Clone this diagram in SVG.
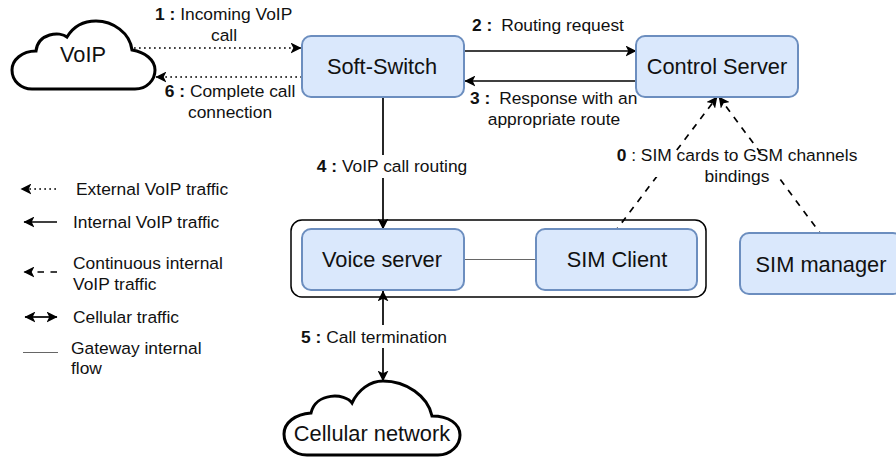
<svg xmlns="http://www.w3.org/2000/svg" width="896" height="457" viewBox="0 0 896 457">
<style>
text{font-family:"Liberation Sans",Arial,sans-serif;fill:#111}
.n{fill:#dae8fc;stroke:#6c8ebf;stroke-width:2}
.nt{font-size:21.800px;text-anchor:middle}
.l{font-size:17.400px}
.m{text-anchor:middle}
.b{font-weight:bold}
.c{fill:#fff;stroke:#000;stroke-width:3}
.e{fill:none;stroke:#000;stroke-width:1.700}
.dot{stroke-dasharray:1.700 3.300}
.dash{stroke-dasharray:6.500 6.500}
.off{stroke-dashoffset:5}
</style>
<defs>
<marker id="a" viewBox="0 0 10 10" refX="9.500" refY="5" markerWidth="11" markerHeight="11" markerUnits="userSpaceOnUse" orient="auto-start-reverse"><path d="M0 0L10 5L0 10L2.500 5Z" fill="#000"/></marker>
</defs>
<g id="connectors">
<path class="e dot" d="M134 48H301" marker-end="url(#a)"/>
<path class="e dot" d="M302 77H156" marker-end="url(#a)"/>
<path class="e" d="M464 51H636" marker-end="url(#a)"/>
<path class="e" d="M636 81H465" marker-end="url(#a)"/>
<path class="e" d="M383 97V229" marker-end="url(#a)"/>
<path class="e" d="M383 381V291" marker-start="url(#a)" marker-end="url(#a)"/>
<path class="e dash off" d="M617 229L717 97" marker-end="url(#a)"/>
<path class="e dash off" d="M820 233L719 97" marker-end="url(#a)"/>
<path d="M464 259.500H536" fill="none" stroke="#666" stroke-width="1"/>
</g>
<rect id="gateway" x="291" y="220" width="415" height="77" rx="11" fill="none" stroke="#000" stroke-width="1.500"/>
<g id="soft-switch"><rect class="n" x="302" y="36" width="162" height="61" rx="9"/><text class="nt" x="382" y="74">Soft-Switch</text></g>
<g id="control-server"><rect class="n" x="636" y="36" width="162" height="61" rx="9"/><text class="nt" x="717" y="74">Control Server</text></g>
<g id="voice-server"><rect class="n" x="302" y="229" width="162" height="61" rx="9"/><text class="nt" x="382" y="267">Voice server</text></g>
<g id="sim-client"><rect class="n" x="536" y="229" width="161" height="61" rx="9"/><text class="nt" x="617" y="267">SIM Client</text></g>
<g id="sim-manager"><rect class="n" x="740" y="233" width="162" height="61" rx="9"/><text class="nt" x="821" y="272">SIM manager</text></g>
<g id="voip-cloud"><path class="c" d="M32 89H135C147 89 155 80 155 70C155 60 145 52 132 50C130 33 113 21 96 21C83 21 73 27 67 37C60 31 38 33 36 51C22 51 12 60 12 70C12 81 21 89 32 89Z"/><text class="nt" x="83" y="62">VoIP</text></g>
<g id="cellular-cloud"><path class="c" d="M307 455H438C451 455 460 445 460 435C460 424 449 416 432 416C428 396 406 381 383 381C370 381 358 390 352 403C345 393 316 392 311 413C295 414 284 423 284 434C284 446 294 455 307 455Z"/><text class="nt" x="372" y="441">Cellular network</text></g>
<g id="labels">
<rect x="370" y="155" width="26" height="23" fill="#fff"/>
<rect x="370" y="325" width="26" height="23" fill="#fff"/>
<rect x="612" y="153" width="248" height="24" fill="#fff"/>
<text class="l" x="155" y="20"><tspan class="b">1 : </tspan>Incoming VoIP</text>
<text class="l m" x="224" y="41">call</text>
<text class="l m" x="230" y="97"><tspan class="b">6 : </tspan>Complete call</text>
<text class="l m" x="230" y="118">connection</text>
<text class="l" x="472" y="31"><tspan class="b">2 : </tspan><tspan dx="4">Routing request</tspan></text>
<text class="l" x="470" y="104"><tspan class="b">3 : </tspan><tspan dx="4">Response with an</tspan></text>
<text class="l m" x="554" y="125">appropriate route</text>
<text class="l m" x="392" y="172"><tspan class="b">4 : </tspan>VoIP call routing</text>
<text class="l m" x="374" y="343"><tspan class="b">5 : </tspan>Call termination</text>
<text class="l m" x="737" y="161"><tspan class="b">0</tspan> : SIM cards to GSM channels</text>
<text class="l m" x="737" y="182">bindings</text>
</g>
<g id="legend">
<path class="e dot" d="M56 189H21" marker-end="url(#a)"/>
<text class="l" x="76" y="195">External VoIP traffic</text>
<path class="e" d="M57 222H24" marker-end="url(#a)"/>
<text class="l" x="73" y="228">Internal VoIP traffic</text>
<path class="e dash" d="M57 272H24" marker-end="url(#a)"/>
<text class="l" x="73" y="269">Continuous internal</text>
<text class="l" x="73" y="290">VoIP traffic</text>
<path class="e" d="M25 317H57" marker-start="url(#a)" marker-end="url(#a)"/>
<text class="l" x="73" y="323">Cellular traffic</text>
<path d="M23 352.500H58" fill="none" stroke="#666" stroke-width="1"/>
<text class="l" x="71" y="354">Gateway internal</text>
<text class="l" x="71" y="374">flow</text>
</g>
</svg>
